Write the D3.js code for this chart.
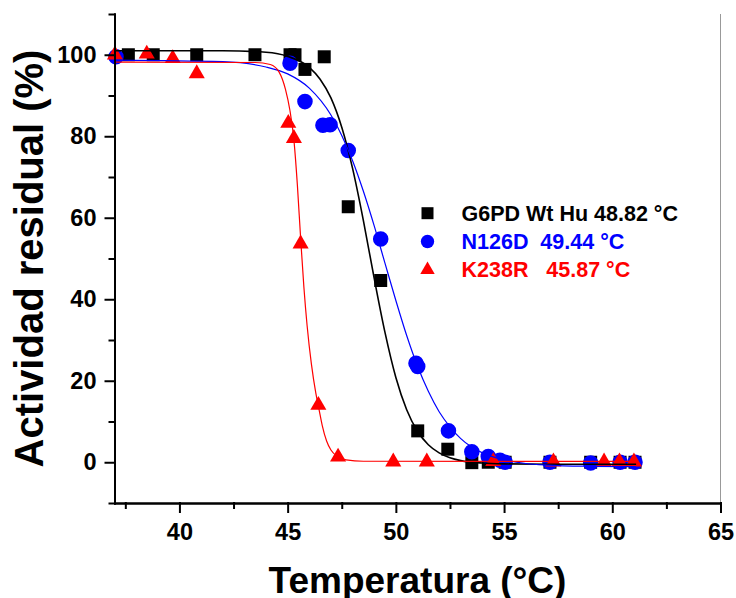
<!DOCTYPE html>
<html>
<head>
<meta charset="utf-8">
<script src="https://cdn.jsdelivr.net/npm/d3@7"></script>
<style>
  body { margin: 0; background: #fff; }
  text { font-family: "Liberation Sans", Arial, sans-serif; font-weight: bold; }
</style>
</head>
<body>
<script>
const width = 736;
const height = 598;

// measured points [temperature, residual activity]
const wtPoints = [
  [37.64, 100], [38.79, 100], [40.80, 100], [43.49, 100], [45.11, 100], [45.34, 100],
  [45.80, 96.4], [46.69, 99.5], [47.80, 62.7], [49.30, 44.6], [51.01, 7.7], [52.40, 3.2],
  [53.51, -0.1], [54.27, 0], [55.05, 0], [57.12, 0], [59.0, 0], [60.36, 0], [61.05, 0]
];
const n126dPoints = [
  [37.07, 99.5], [45.11, 97.9], [45.80, 88.5], [46.63, 82.7], [46.96, 82.8], [47.80, 76.5],
  [49.30, 54.8], [50.93, 24.3], [51.01, 23.5], [52.43, 7.7], [53.51, 2.6], [54.27, 1.4],
  [54.81, 0.5], [55.05, 0], [57.12, 0], [59.0, -0.2], [60.36, 0], [61.05, 0]
];
const k238rPoints = [
  [37.02, 100], [38.49, 100.2], [39.69, 99.1], [40.80, 95.4], [45.03, 83.2], [45.29, 79.5],
  [45.60, 53.6], [46.42, 14.0], [47.33, 1.3], [49.88, 0.1], [51.43, 0.1], [54.50, 0.2],
  [57.28, 0.1], [59.62, 0.1], [60.33, 0.1], [61.0, 0.1]
];

// fitted curves
const wtFit = [
  [37, 101.0], [42, 101.0], [44, 100.6], [45, 99.6], [46, 96.9], [46.5, 94.0], [47, 89.4],
  [47.5, 82.2], [48, 72.1], [48.5, 59.3], [49, 45.1], [49.5, 31.8], [50, 20.8], [50.5, 12.9],
  [51, 7.6], [51.5, 4.3], [52, 2.3], [52.5, 1.1], [53, 0.4], [54, -0.2], [55, -0.4],
  [57, -0.5], [61.1, -0.5]
];
const n126dFit = [
  [37, 98.7], [42, 98.3], [44, 97.0], [45, 95.3], [46, 91.8], [47, 85.2], [47.5, 80.2],
  [48, 74.0], [48.5, 66.5], [49, 58.0], [49.5, 48.8], [50, 39.7], [50.5, 31.1], [51, 23.6],
  [51.5, 17.4], [52, 12.4], [52.5, 8.7], [53, 5.8], [54, 2.3], [55, 0.6], [56, -0.3],
  [57, -0.7], [59, -1.0], [61.1, -1.1]
];
const k238rFit = [
  [37, 98.2], [43.5, 98.1], [44.2, 97.6], [44.6, 95.8], [44.9, 91.5], [45.1, 86.5],
  [45.3, 78.5], [45.45, 68], [45.6, 55], [45.75, 43], [45.9, 33.5], [46.1, 24], [46.3, 17],
  [46.45, 13], [46.6, 9], [46.8, 5.2], [47.0, 3], [47.3, 1.4], [47.7, 0.6], [48.5, 0.25],
  [61.1, 0.2]
];

const xTicks = [40, 45, 50, 55, 60, 65];
const xMinor = [37.5, 42.5, 47.5, 52.5, 57.5, 62.5];
const yTicks = [0, 20, 40, 60, 80, 100];
const yMinor = [-10, 10, 30, 50, 70, 90, 110];

const legendLabels = ["G6PD Wt Hu 48.82 °C", "N126D  49.44 °C", "K238R   45.87 °C"];
const colors = ["#000000", "#0000ff", "#ff0000"];

const x = d3.scaleLinear().domain([37, 65]).range([114.5, 720.5]);
const y = d3.scaleLinear().domain([-10, 110]).range([503, 14]);

const svg = d3.select("body").append("svg")
  .attr("width", width)
  .attr("height", height);

// thin frame line on the right
svg.append("line")
  .attr("x1", x(65)).attr("x2", x(65))
  .attr("y1", y(110)).attr("y2", y(-10))
  .attr("stroke", "#999").attr("stroke-width", 1);

// markers
const square = d3.symbol().type(d3.symbolSquare).size(169);
const circle = d3.symbol().type(d3.symbolCircle).size(190);
const triangle = d3.symbol().type(d3.symbolTriangle).size(112);

svg.append("g").selectAll("path")
  .data(wtPoints)
  .join("path")
    .attr("transform", d => `translate(${x(d[0])},${y(d[1])})`)
    .attr("d", square)
    .attr("fill", colors[0]);

svg.append("g").selectAll("path")
  .data(n126dPoints)
  .join("path")
    .attr("transform", d => `translate(${x(d[0])},${y(d[1])})`)
    .attr("d", circle)
    .attr("fill", colors[1]);

svg.append("g").selectAll("path")
  .data(k238rPoints)
  .join("path")
    .attr("transform", d => `translate(${x(d[0])},${y(d[1])})`)
    .attr("d", triangle)
    .attr("fill", colors[2]);

// fit lines
const line = d3.line()
  .x(d => x(d[0]))
  .y(d => y(d[1]))
  .curve(d3.curveMonotoneX);

[[wtFit, 1.6], [n126dFit, 1.2], [k238rFit, 1.2]].forEach(([fit, w], i) => {
  svg.append("path")
    .datum(fit)
    .attr("d", line)
    .attr("fill", "none")
    .attr("stroke", colors[i])
    .attr("stroke-width", w);
});

// axes
svg.append("g")
  .attr("transform", `translate(0,${y(-10)})`)
  .call(d3.axisBottom(x).tickValues(xTicks).tickSize(9).tickSizeOuter(0).tickPadding(11));
svg.append("g")
  .attr("transform", `translate(0,${y(-10)})`)
  .call(d3.axisBottom(x).tickValues(xMinor).tickSize(5).tickSizeOuter(0).tickFormat(""));

svg.append("g")
  .attr("transform", `translate(${x(37)},0)`)
  .call(d3.axisLeft(y).tickValues(yTicks).tickSize(9).tickSizeOuter(0).tickPadding(9));
svg.append("g")
  .attr("transform", `translate(${x(37)},0)`)
  .call(d3.axisLeft(y).tickValues(yMinor).tickSize(5).tickSizeOuter(0).tickFormat(""));

svg.selectAll(".domain, .tick line")
  .attr("stroke", "#000")
  .attr("stroke-width", 2)
  .attr("stroke-linecap", "square");
svg.selectAll(".tick text")
  .attr("fill", "#000")
  .style("font-size", "23.5px");

// axis titles
svg.append("text")
  .attr("x", 417.5)
  .attr("y", 593)
  .attr("text-anchor", "middle")
  .style("font-size", "37px")
  .text("Temperatura (°C)");

svg.append("text")
  .attr("transform", "translate(43,258.5) rotate(-90)")
  .attr("text-anchor", "middle")
  .style("font-size", "40px")
  .text("Actividad residual (%)");

// legend
const legendShapes = [d3.symbol().type(d3.symbolSquare).size(144),
  d3.symbol().type(d3.symbolCircle).size(140),
  d3.symbol().type(d3.symbolTriangle).size(90)];
const legend = svg.append("g");
legendLabels.forEach((label, i) => {
  const base = 220.7 + i * 28.3;
  legend.append("path")
    .attr("transform", `translate(427.5,${base - 7.5})`)
    .attr("d", legendShapes[i])
    .attr("fill", colors[i]);
  legend.append("text")
    .attr("x", 461.5)
    .attr("y", base)
    .attr("fill", colors[i])
    .attr("xml:space", "preserve")
    .style("white-space", "pre")
    .style("font-size", "21.5px")
    .text(label);
});
</script>
</body>
</html>
